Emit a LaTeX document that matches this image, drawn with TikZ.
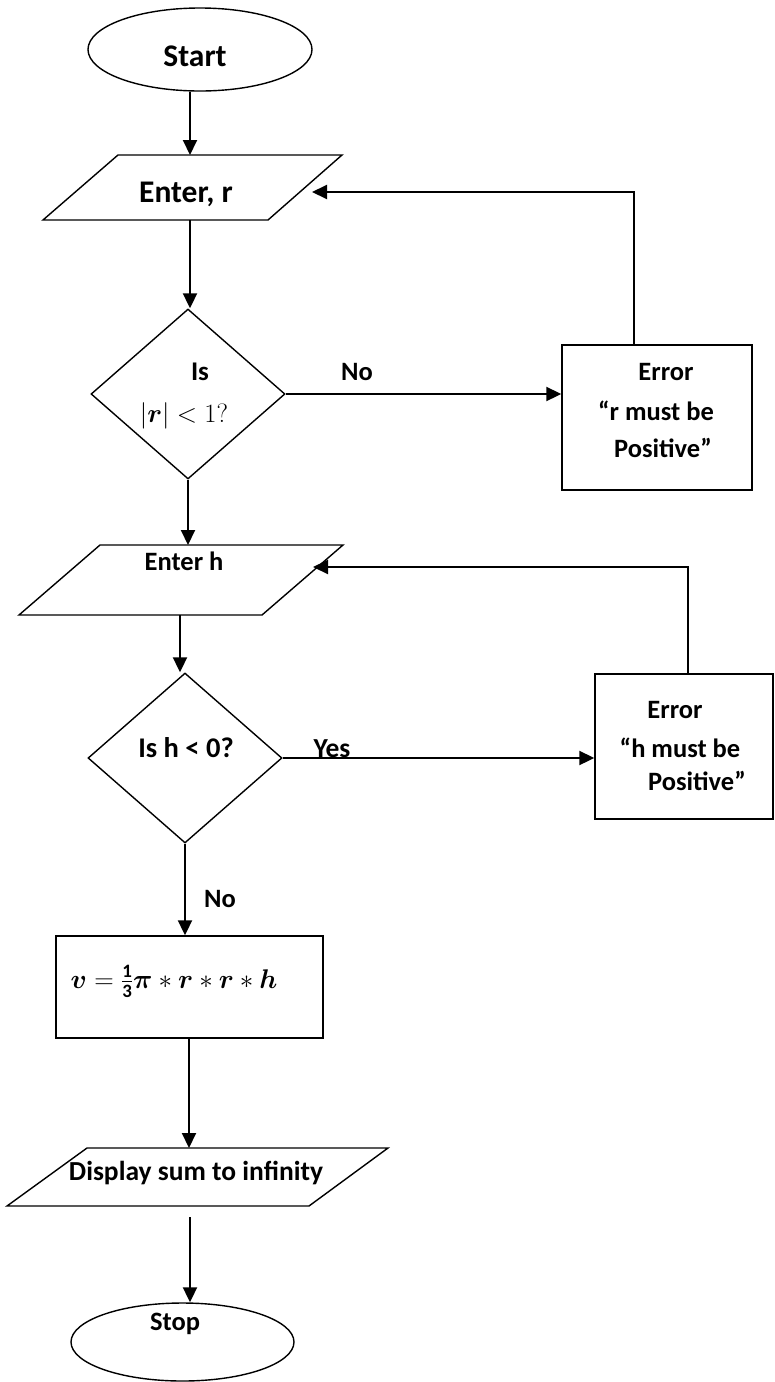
\RequirePackage{fix-cm}
\documentclass[tikz,border=0pt]{standalone}
\usepackage{amsmath}
\usepackage{fontspec}
\setmainfont{Carlito}
\usetikzlibrary{shapes.geometric,arrows.meta}
\begin{document}
\begin{tikzpicture}[x=1pt,y=-1pt,
  outline/.style={draw, line width=1.4pt},
  term/.style={outline, ellipse, inner sep=0pt},
  decision/.style={outline, diamond, inner sep=0pt, minimum width=194pt, minimum height=170pt},
  proc/.style={outline, rectangle, inner sep=0pt},
  arr/.style={line width=2pt, -{Triangle[length=15pt,width=14pt]}},
  txt/.style={anchor=base, inner sep=0pt, font=\bfseries\fontsize{26.5}{30}\selectfont},
  bigtxt/.style={txt, font=\bfseries\fontsize{31.5}{36}\selectfont},
  smalltxt/.style={txt, font=\bfseries\fontsize{27.5}{32}\selectfont},
  mathtxt/.style={txt, font=\fontsize{27}{32}\selectfont}]
\useasboundingbox (0,0) rectangle (775,1382);

% ---- shapes ----
\node[term, minimum width=224pt, minimum height=83pt] (start) at (200,49.5) {};
\node[bigtxt] (starttxt) at (195,66) {Start};

\draw[outline] (118,155) -- (342,155) -- (268,220) -- (43,220) -- cycle;
\coordinate (ertop) at (190,155);
\coordinate (erbot) at (190,220);
\coordinate (erin) at (312,192);
\node[bigtxt] (ertxt) at (186,202) {Enter, r};

\node[decision] (d1) at (188,394) {};
\node[txt, font=\bfseries\fontsize{27}{30}\selectfont] (d1a) at (200,380) {Is};
\node[mathtxt, font=\fontsize{26.5}{32}\selectfont] (d1b) at (184,422) {$|\boldsymbol{r}|<1?$};

\node[proc, minimum width=190pt, minimum height=145pt] (e1) at (657,417.5) {};
\coordinate (e1top) at (634,345);
\node[txt] (e1a) at (666,380) {Error};
\node[txt] (e1b) at (656,420) {“r must be};
\node[txt] (e1c) at (663,457) {Positive”};

\draw[outline] (100,545) -- (343,545) -- (262,615) -- (19,615) -- cycle;
\coordinate (ehtop) at (188,545);
\coordinate (ehbot) at (180,615);
\coordinate (ehin) at (313,567);
\node[txt] (ehtxt) at (184,570) {Enter h};

\node[decision] (d2) at (185,758) {};
\node[smalltxt, font=\bfseries\fontsize{28.5}{32}\selectfont] (d2a) at (186,757) {Is h < 0?};

\node[proc, minimum width=178pt, minimum height=145pt] (e2) at (684,746.5) {};
\coordinate (e2top) at (688,674);
\node[txt] (e2a) at (675,718) {Error};
\node[txt] (e2b) at (680,757) {“h must be};
\node[txt] (e2c) at (697,790) {Positive”};

\node[proc, minimum width=267pt, minimum height=102pt] (calc) at (189.5,987) {};
\node[mathtxt] (calctxt) at (174,988)
  {$\boldsymbol{v}=\frac{\mathbf{1}}{\mathbf{3}}\boldsymbol{\pi}*\boldsymbol{r}*\boldsymbol{r}*\boldsymbol{h}$};

\draw[outline] (87,1148) -- (388,1148) -- (309,1206) -- (7,1206) -- cycle;
\coordinate (dstop) at (189,1148);
\coordinate (dsbot) at (190,1217);
\node[smalltxt] (dstxt) at (196,1180) {Display sum to infinity};

\node[term, minimum width=223pt, minimum height=78pt] (stop) at (182.5,1342) {};
\node[txt] (stoptxt) at (175,1330) {Stop};

% ---- connectors ----
\draw[arr] (start.south -| ertop) -- (ertop);
\draw[arr] (erbot) -- (erbot |- d1.north);
\draw[arr] (d1.east) -- (d1.east -| e1.west);
\node[txt] (no1) at (357,380) {No};
\draw[arr] (e1top) -- (e1top |- erin) -- (erin);

\draw[arr] (d1.south) -- (ehtop);
\draw[arr] (ehbot) -- (ehbot |- d2.north);
\draw[arr] (d2.east) -- (d2.east -| e2.west);
\node[smalltxt] (yes) at (332,757) {Yes};
\draw[arr] (e2top) -- (e2top |- ehin) -- (ehin);

\draw[arr] (d2.south) -- (d2.south |- calc.north);
\node[txt] (no2) at (220,907) {No};
\draw[arr] (calc.south -| dstop) -- (dstop);
\draw[arr] (dsbot) -- (dsbot |- stop.north);
\end{tikzpicture}
\end{document}
